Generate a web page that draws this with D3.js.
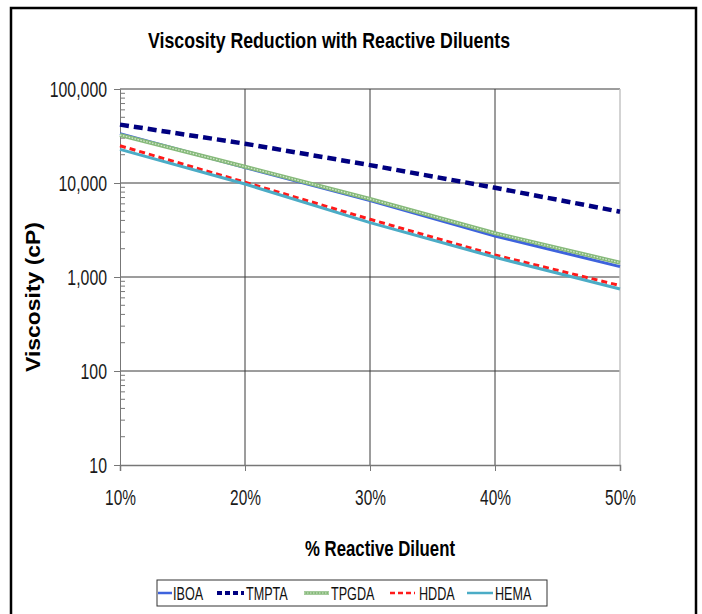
<!DOCTYPE html>
<html>
<head>
<meta charset="utf-8">
<script src="https://cdn.jsdelivr.net/npm/d3@7"></script>
<style>
  body { margin: 0; background: #fff; }
  svg { display: block; font-family: "Liberation Sans", Arial, sans-serif; }
</style>
</head>
<body>
<svg id="chart" width="702" height="614"></svg>
<script>
// data
const diluentPct = [10, 20, 30, 40, 50];
const yTickValues = [10, 100, 1000, 10000, 100000];
const IBOA = [33500, 14600, 6500, 2730, 1290];
const TMPTA = [41800, 26200, 15500, 8900, 4950];
const TPGDA = [32400, 14900, 6760, 2920, 1420];
const HDDA = [24900, 10200, 4110, 1714, 810];
const HEMA = [22800, 9750, 3790, 1620, 745];

const seriesNames = ['IBOA', 'TMPTA', 'TPGDA', 'HDDA', 'HEMA'];
const seriesValues = { IBOA, TMPTA, TPGDA, HDDA, HEMA };

const styles = {
  IBOA:  { color: '#3e63dd', width: 3, dash: null },
  TMPTA: { color: '#000080', width: 4.5, dash: '9,5' },
  TPGDA: { color: '#86b97a', width: 4, dash: null, texture: true },
  HDDA:  { color: '#ff1a1a', width: 3, dash: '6,4' },
  HEMA:  { color: '#4bacc6', width: 3, dash: null }
};

const svg = d3.select('#chart');
const margin = { top: 89, right: 82, bottom: 149, left: 120 };
const width = 702, height = 614;

const x = d3.scaleLinear().domain([10, 50]).range([margin.left, width - margin.right]);
const y = d3.scaleLog().domain([10, 100000]).range([height - margin.bottom, margin.top]);

// the reference text is squeezed sideways, so squeeze ours too
function narrow(sel, f) {
  sel.each(function () {
    const len = this.getComputedTextLength();
    d3.select(this).attr('textLength', len * f).attr('lengthAdjust', 'spacingAndGlyphs');
  });
}

// outer frame
svg.append('rect')
  .attr('x', 11).attr('y', 8)
  .attr('width', 685).attr('height', 620)
  .attr('fill', 'none').attr('stroke', '#000').attr('stroke-width', 2.5);

// title
svg.append('text')
  .attr('x', 329).attr('y', 48)
  .attr('text-anchor', 'middle')
  .attr('font-size', 22).attr('font-weight', 'bold')
  .attr('textLength', 362).attr('lengthAdjust', 'spacingAndGlyphs')
  .text('Viscosity Reduction with Reactive Diluents');

// gridlines
svg.append('g')
  .selectAll('line')
  .data(yTickValues.slice(1))
  .join('line')
  .attr('x1', x(10)).attr('x2', x(50))
  .attr('y1', d => y(d)).attr('y2', d => y(d))
  .attr('stroke', '#3a3a3a').attr('stroke-width', 1);

svg.append('g')
  .selectAll('line')
  .data(diluentPct.slice(1, 4))
  .join('line')
  .attr('x1', d => x(d)).attr('x2', d => x(d))
  .attr('y1', y(100000)).attr('y2', y(10))
  .attr('stroke', '#3a3a3a').attr('stroke-width', 1);

// right edge of plot
svg.append('line')
  .attr('x1', x(50)).attr('x2', x(50))
  .attr('y1', y(100000)).attr('y2', y(10))
  .attr('stroke', '#c4c4c4').attr('stroke-width', 1.5);

// y axis with major ticks outside, minor ticks inside
const yAxis = svg.append('g')
  .attr('transform', `translate(${margin.left},0)`)
  .call(d3.axisLeft(y).tickValues(yTickValues).tickSize(6).tickFormat(d3.format(',')));
yAxis.select('.domain').attr('stroke', '#777');
yAxis.selectAll('.tick line').attr('stroke', '#777');
yAxis.selectAll('.tick text')
  .attr('font-size', 22).attr('fill', '#1a1a1a').attr('x', -13).attr('dy', '0.36em')
  .attr('font-family', '"Liberation Sans", Arial, sans-serif')
  .call(narrow, 0.72);

const minor = [];
yTickValues.slice(0, -1).forEach(d => {
  for (let k = 2; k <= 9; k++) minor.push(d * k);
});
svg.append('g')
  .selectAll('line')
  .data(minor)
  .join('line')
  .attr('x1', margin.left).attr('x2', margin.left + 5)
  .attr('y1', d => y(d)).attr('y2', d => y(d))
  .attr('stroke', '#777').attr('stroke-width', 1);

// x axis
const xAxis = svg.append('g')
  .attr('transform', `translate(0,${y(10)})`)
  .call(d3.axisBottom(x).tickValues(diluentPct).tickSize(6).tickFormat(d => d + '%'));
xAxis.select('.domain').attr('stroke', '#777').attr('stroke-width', 1.5);
xAxis.selectAll('.tick line').attr('stroke', '#777');
xAxis.selectAll('.tick text')
  .attr('font-size', 22).attr('fill', '#1a1a1a').attr('dy', 31)
  .attr('font-family', '"Liberation Sans", Arial, sans-serif')
  .call(narrow, 0.7);

// axis titles
svg.append('text')
  .attr('x', 380).attr('y', 556)
  .attr('text-anchor', 'middle')
  .attr('font-size', 22).attr('font-weight', 'bold')
  .attr('textLength', 150).attr('lengthAdjust', 'spacingAndGlyphs')
  .text('% Reactive Diluent');

svg.append('text')
  .attr('transform', 'translate(40,297) rotate(-90)')
  .attr('text-anchor', 'middle')
  .attr('font-size', 20).attr('font-weight', 'bold')
  .attr('textLength', 150).attr('lengthAdjust', 'spacingAndGlyphs')
  .text('Viscosity (cP)');

// series lines
const line = d3.line()
  .x((d, i) => x(diluentPct[i]))
  .y(d => y(d));

const lines = svg.append('g');
seriesNames.forEach(name => {
  const s = styles[name];
  lines.append('path')
    .attr('d', line(seriesValues[name]))
    .attr('fill', 'none')
    .attr('stroke', s.color)
    .attr('stroke-width', s.width)
    .attr('stroke-dasharray', s.dash);
  if (s.texture) {
    lines.append('path')
      .attr('d', line(seriesValues[name]))
      .attr('fill', 'none')
      .attr('stroke', '#d6ead0')
      .attr('stroke-width', 1.3)
      .attr('stroke-dasharray', '1.5,1.5');
  }
});

// legend
const legendItems = [
  { name: 'IBOA', x0: 158, x1: 172, tx: 173 },
  { name: 'TMPTA', x0: 217, x1: 244, tx: 246 },
  { name: 'TPGDA', x0: 304, x1: 329, tx: 331 },
  { name: 'HDDA', x0: 390, x1: 415, tx: 419 },
  { name: 'HEMA', x0: 467, x1: 493, tx: 495 }
];

svg.append('rect')
  .attr('x', 157).attr('y', 580)
  .attr('width', 390).attr('height', 26)
  .attr('fill', '#fff').attr('stroke', '#333').attr('stroke-width', 1);

const lg = svg.append('g');
legendItems.forEach(it => {
  const s = styles[it.name];
  lg.append('line')
    .attr('x1', it.x0).attr('x2', it.x1)
    .attr('y1', 593).attr('y2', 593)
    .attr('stroke', s.color)
    .attr('stroke-width', s.width - 0.5)
    .attr('stroke-dasharray', s.dash ? '5,3' : null);
  if (s.texture) {
    lg.append('line')
      .attr('x1', it.x0).attr('x2', it.x1)
      .attr('y1', 593).attr('y2', 593)
      .attr('stroke', '#d6ead0').attr('stroke-width', 1.2)
      .attr('stroke-dasharray', '1.5,1.5');
  }
  lg.append('text')
    .attr('x', it.tx).attr('y', 600)
    .attr('font-size', 18).attr('fill', '#111')
    .text(it.name)
    .call(narrow, 0.7);
});
</script>
</body>
</html>
